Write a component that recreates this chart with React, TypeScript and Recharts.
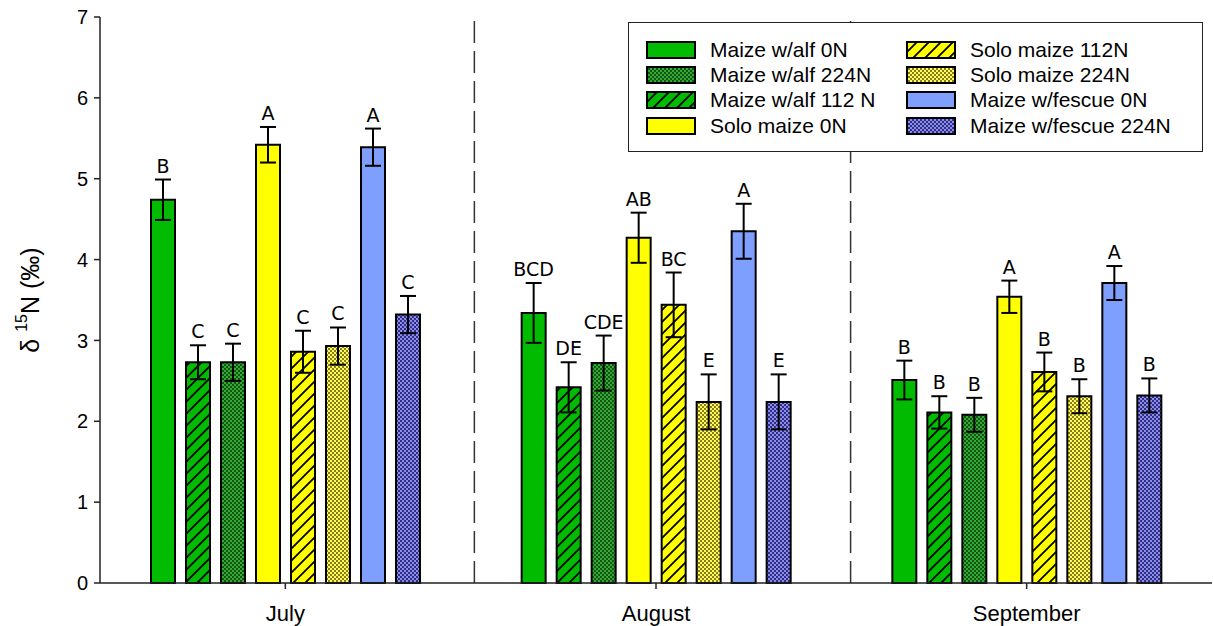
import { BarChart, Bar, XAxis, YAxis, ErrorBar, LabelList, ReferenceLine } from "recharts";

// months on the x axis
const months = ["July", "August", "September"];

// delta 15N means (per mil), SE and letter groups, July / August / September
const alf0 = [4.74, 3.34, 2.51];
const alf0Err = [0.25, 0.37, 0.24];
const alf0Sig = ["B", "BCD", "B"];

const alf112 = [2.73, 2.42, 2.11];
const alf112Err = [0.21, 0.31, 0.2];
const alf112Sig = ["C", "DE", "B"];

const alf224 = [2.73, 2.72, 2.08];
const alf224Err = [0.23, 0.34, 0.21];
const alf224Sig = ["C", "CDE", "B"];

const solo0 = [5.42, 4.27, 3.54];
const solo0Err = [0.22, 0.31, 0.2];
const solo0Sig = ["A", "AB", "A"];

const solo112 = [2.86, 3.44, 2.61];
const solo112Err = [0.26, 0.4, 0.24];
const solo112Sig = ["C", "BC", "B"];

const solo224 = [2.93, 2.24, 2.31];
const solo224Err = [0.23, 0.34, 0.21];
const solo224Sig = ["C", "E", "B"];

const fesc0 = [5.39, 4.35, 3.71];
const fesc0Err = [0.23, 0.34, 0.21];
const fesc0Sig = ["A", "A", "A"];

const fesc224 = [3.32, 2.24, 2.32];
const fesc224Err = [0.23, 0.34, 0.21];
const fesc224Sig = ["C", "E", "B"];

const yTicks = [0, 1, 2, 3, 4, 5, 6, 7];
// month centres and the dashed separators, on a 0..3 month scale
const monthPos = [0.5, 1.5, 2.5];
const separators = [1.01, 2.025];

// bar order in the plot
const series = [
  { key: "alf0", name: "Maize w/alf 0N", vals: alf0, errs: alf0Err, sigs: alf0Sig, fill: "#00bb00" },
  { key: "alf112", name: "Maize w/alf 112 N", vals: alf112, errs: alf112Err, sigs: alf112Sig, fill: "url(#hatchGreen)" },
  { key: "alf224", name: "Maize w/alf 224N", vals: alf224, errs: alf224Err, sigs: alf224Sig, fill: "url(#dotGreen)" },
  { key: "solo0", name: "Solo maize 0N", vals: solo0, errs: solo0Err, sigs: solo0Sig, fill: "#ffff00" },
  { key: "solo112", name: "Solo maize 112N", vals: solo112, errs: solo112Err, sigs: solo112Sig, fill: "url(#hatchYellow)" },
  { key: "solo224", name: "Solo maize 224N", vals: solo224, errs: solo224Err, sigs: solo224Sig, fill: "url(#dotYellow)" },
  { key: "fesc0", name: "Maize w/fescue 0N", vals: fesc0, errs: fesc0Err, sigs: fesc0Sig, fill: "#7f9fff" },
  { key: "fesc224", name: "Maize w/fescue 224N", vals: fesc224, errs: fesc224Err, sigs: fesc224Sig, fill: "url(#dotBlue)" },
];

// legend reads in two columns, in this order
const legendOrder = ["alf0", "alf224", "alf112", "solo0", "solo112", "solo224", "fesc0", "fesc224"];

const data = months.map((month, i) => {
  const row: Record<string, any> = { month, pos: monthPos[i] };
  series.forEach((s) => {
    row[s.key] = s.vals[i];
    row[s.key + "_err"] = s.errs[i];
    row[s.key + "_sig"] = s.sigs[i];
  });
  return row;
});

const font = "'Liberation Sans', Arial, sans-serif";

const Patterns = () => (
  <svg width={0} height={0} style={{ position: "absolute" }}>
    <defs>
      <pattern id="hatchGreen" width={12} height={12} patternUnits="userSpaceOnUse">
        <rect width={12} height={12} fill="#00bb00" />
        <path d="M-3,3 l6,-6 M0,12 l12,-12 M9,15 l6,-6" stroke="#000" strokeWidth={1.8} />
      </pattern>
      <pattern id="hatchYellow" width={12} height={12} patternUnits="userSpaceOnUse">
        <rect width={12} height={12} fill="#ffff00" />
        <path d="M-3,3 l6,-6 M0,12 l12,-12 M9,15 l6,-6" stroke="#000" strokeWidth={1.8} />
      </pattern>
      <pattern id="dotGreen" width={4} height={4} patternUnits="userSpaceOnUse">
        <rect width={4} height={4} fill="#2cb02c" />
        <rect width={2} height={2} fill="#1b4f1b" />
        <rect x={2} y={2} width={2} height={2} fill="#1b4f1b" />
      </pattern>
      <pattern id="dotYellow" width={4} height={4} patternUnits="userSpaceOnUse">
        <rect width={4} height={4} fill="#ffff50" />
        <rect width={2} height={2} fill="#8a7a28" />
        <rect x={2} y={2} width={2} height={2} fill="#8a7a28" />
      </pattern>
      <pattern id="dotBlue" width={4} height={4} patternUnits="userSpaceOnUse">
        <rect width={4} height={4} fill="#8c8cf0" />
        <rect width={2} height={2} fill="#2f2f80" />
        <rect x={2} y={2} width={2} height={2} fill="#2f2f80" />
      </pattern>
    </defs>
  </svg>
);

const YTitle = (props: any) => {
  const vb = props.viewBox;
  const cx = vb.x + 30;
  const cy = vb.y + vb.height / 2;
  return (
    <text
      x={cx}
      y={cy}
      transform={`rotate(-90 ${cx} ${cy})`}
      textAnchor="middle"
      dominantBaseline="central"
      fontSize={25}
      fontFamily={font}
      fill="#000"
    >
      δ <tspan fontSize={16} dy={-9}>15</tspan>
      <tspan dy={9}>N (‰)</tspan>
    </text>
  );
};

const LegendBox = () => {
  const byKey = Object.fromEntries(series.map((s) => [s.key, s]));
  const cols = [legendOrder.slice(0, 4), legendOrder.slice(4)];
  return (
    <div
      style={{
        position: "absolute",
        left: 628,
        top: 22,
        width: 573,
        height: 128,
        border: "1.5px solid #222",
        background: "#fff",
        fontFamily: font,
        fontSize: 21,
        boxSizing: "content-box",
      }}
    >
      {cols.map((col, ci) => (
        <div key={ci} style={{ position: "absolute", left: ci === 0 ? 17 : 277, top: 14 }}>
          {col.map((k) => (
            <div key={k} style={{ display: "flex", alignItems: "center", height: 25.3 }}>
              <svg width={50} height={18} style={{ marginRight: 14 }}>
                <rect x={1} y={1} width={48} height={16} fill={byKey[k].fill} stroke="#000" strokeWidth={2} />
              </svg>
              <span style={{ whiteSpace: "nowrap" }}>{byKey[k].name}</span>
            </div>
          ))}
        </div>
      ))}
    </div>
  );
};

export default function App() {
  return (
    <div style={{ position: "absolute", left: 0, top: 0, width: 1213, height: 626, background: "#fff" }}>
      <Patterns />
      <BarChart
        width={1213}
        height={626}
        data={data}
        margin={{ top: 17, right: 1, bottom: 0, left: 0 }}
        barGap={11}
        style={{ fontFamily: font }}
      >
        <XAxis
          dataKey="month"
          height={43}
          tickSize={6}
          tickMargin={16}
          tick={{ fill: "#000", fontSize: 22 }}
          axisLine={{ stroke: "#222", strokeWidth: 1.5 }}
          tickLine={{ stroke: "#222", strokeWidth: 1.5 }}
        />
        <XAxis xAxisId="sep" dataKey="pos" type="number" domain={[0, 3]} hide allowDataOverflow />
        <YAxis
          width={100}
          domain={[0, 7]}
          ticks={yTicks}
          interval={0}
          tickSize={6}
          tickMargin={6}
          tick={{ fill: "#000", fontSize: 20 }}
          axisLine={{ stroke: "#222", strokeWidth: 1.5 }}
          tickLine={{ stroke: "#222", strokeWidth: 1.5 }}
          label={YTitle}
        />
        {separators.map((x) => (
          <ReferenceLine key={x} x={x} xAxisId="sep" stroke="#333" strokeWidth={1.5} strokeDasharray="22 8" />
        ))}
        {series.flatMap((s) => [
          <Bar
            key={s.key}
            dataKey={s.key}
            stackId={s.key}
            fill={s.fill}
            stroke="#000"
            strokeWidth={2}
            barSize={24}
            isAnimationActive={false}
          >
            <ErrorBar dataKey={s.key + "_err"} width={8} stroke="#000" strokeWidth={2} direction="y" />
          </Bar>,
          <Bar
            key={s.key + "_top"}
            dataKey={s.key + "_err"}
            stackId={s.key}
            fill="transparent"
            barSize={24}
            isAnimationActive={false}
          >
            <LabelList
              dataKey={s.key + "_sig"}
              position="top"
              offset={7}
              style={{ fontFamily: "'DejaVu Sans', sans-serif", fontSize: 19, fill: "#000" }}
            />
          </Bar>,
        ])}
      </BarChart>
      <LegendBox />
    </div>
  );
}
